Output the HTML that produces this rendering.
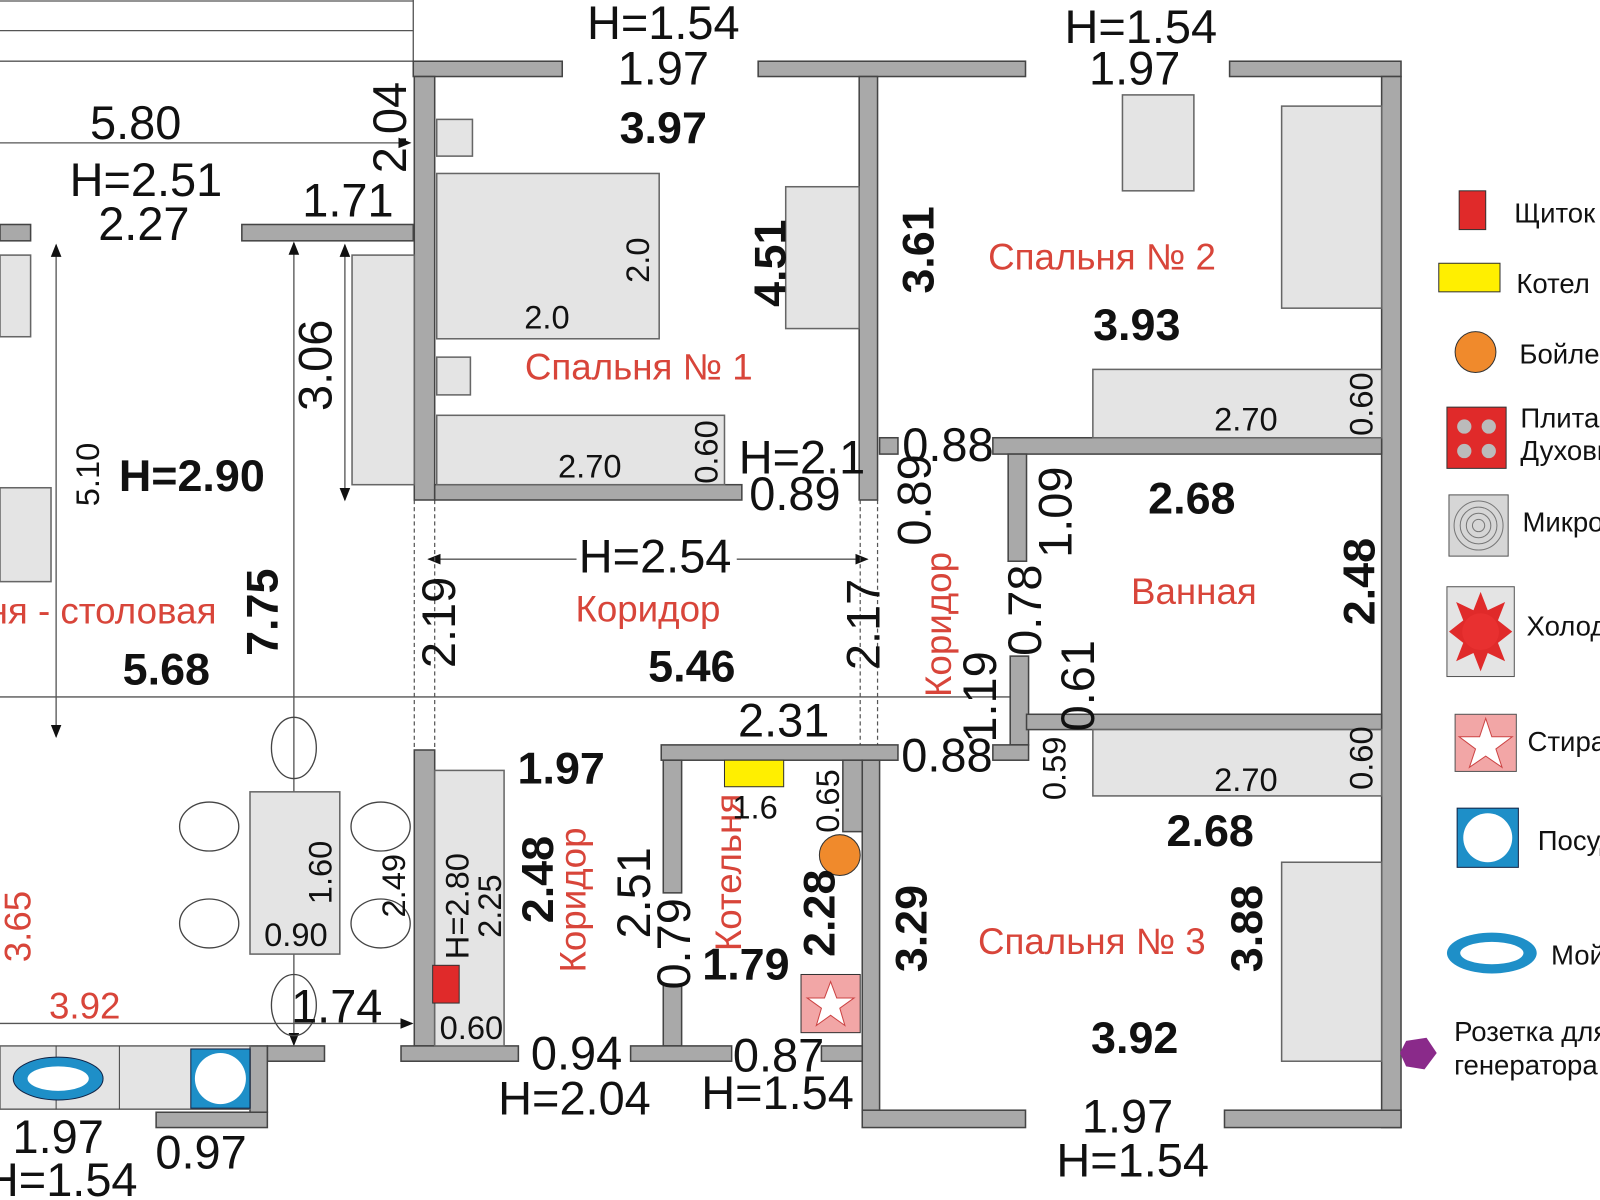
<!DOCTYPE html>
<html><head><meta charset="utf-8"><style>
html,body{margin:0;padding:0;background:#fff;overflow:hidden}
svg{display:block}
text{font-family:"Liberation Sans",Arial,sans-serif}
.n{font-size:46px;fill:#111}
.b{font-size:44px;font-weight:bold;fill:#111}
.s{font-size:32px;fill:#111}
.r{font-size:36px;fill:#d8453a}
.l{font-size:27px;fill:#111}
.w{fill:#a9a9a9;stroke:#444;stroke-width:1.5}
.f{fill:#e4e4e4;stroke:#666;stroke-width:1.5}
.d{stroke:#555;stroke-width:1.3;fill:none}
.ds{stroke:#555;stroke-width:1.2;fill:none;stroke-dasharray:4 3}
</style></head><body>
<svg width="1600" height="1200" viewBox="0 0 1568 1176" preserveAspectRatio="none" xmlns="http://www.w3.org/2000/svg">
<defs><marker id="a" markerWidth="10" markerHeight="10" refX="9" refY="5" orient="auto-start-reverse"><path d="M0,1 L10,5 L0,9 z" fill="#111"/></marker></defs>
<path class="d" d="M0,1H405M0,30H405M0,60H405M405,0V60"/>
<line class="d" x1="0" y1="140" x2="402" y2="140" marker-end="url(#a)"/>
<line class="d" x1="0" y1="683" x2="1000" y2="683"/>
<line class="d" x1="55" y1="240" x2="55" y2="722" marker-start="url(#a)" marker-end="url(#a)"/>
<line class="d" x1="288" y1="238" x2="288" y2="1024" marker-start="url(#a)" marker-end="url(#a)"/>
<line class="d" x1="338" y1="240" x2="338" y2="490" marker-start="url(#a)" marker-end="url(#a)"/>
<line class="d" x1="420" y1="548" x2="565" y2="548" marker-start="url(#a)"/>
<line class="d" x1="722" y1="548" x2="850" y2="548" marker-end="url(#a)"/>
<line class="d" x1="0" y1="1003" x2="404" y2="1003" marker-end="url(#a)"/>
<path class="ds" d="M406,490V735M426,490V735M843,490V735M860,490V735"/>
<rect class="w" x="405" y="60" width="146" height="15"/>
<rect class="w" x="743" y="60" width="262" height="15"/>
<rect class="w" x="1205" y="60" width="168" height="15"/>
<rect class="w" x="406" y="75" width="20" height="415"/>
<rect class="w" x="842" y="75" width="18" height="415"/>
<rect class="w" x="1354" y="75" width="19" height="1030"/>
<rect class="w" x="0" y="220" width="30" height="16"/>
<rect class="w" x="237" y="220" width="168" height="16"/>
<rect class="w" x="426" y="475" width="301" height="15"/>
<rect class="w" x="862" y="429" width="18" height="16"/>
<rect class="w" x="973" y="429" width="381" height="16"/>
<rect class="w" x="988" y="445" width="18" height="105"/>
<rect class="w" x="990" y="643" width="18" height="87"/>
<rect class="w" x="1006" y="700" width="348" height="15"/>
<rect class="w" x="973" y="730" width="35" height="15"/>
<rect class="w" x="648" y="730" width="232" height="15"/>
<rect class="w" x="650" y="745" width="18" height="130"/>
<rect class="w" x="650" y="965" width="18" height="60"/>
<rect class="w" x="618" y="1025" width="99" height="15"/>
<rect class="w" x="845" y="745" width="17" height="345"/>
<rect class="w" x="805" y="1025" width="40" height="15"/>
<rect class="w" x="826" y="745" width="19" height="70"/>
<rect class="w" x="845" y="1088" width="160" height="17"/>
<rect class="w" x="1200" y="1088" width="173" height="17"/>
<rect class="w" x="406" y="735" width="20" height="290"/>
<rect class="w" x="393" y="1025" width="115" height="15"/>
<rect class="w" x="262" y="1025" width="56" height="15"/>
<rect class="w" x="245" y="1025" width="17" height="65"/>
<rect class="w" x="153" y="1090" width="109" height="15"/>
<rect class="f" x="0" y="250" width="30" height="80"/>
<rect class="f" x="0" y="478" width="50" height="92"/>
<rect class="f" x="345" y="250" width="61" height="225"/>
<rect class="f" x="428" y="117" width="35" height="36"/>
<rect class="f" x="428" y="350" width="33" height="37"/>
<rect class="f" x="428" y="170" width="218" height="162"/>
<rect class="f" x="428" y="407" width="282" height="68"/>
<rect class="f" x="770" y="183" width="72" height="139"/>
<rect class="f" x="1100" y="93" width="70" height="94"/>
<rect class="f" x="1256" y="104" width="98" height="198"/>
<rect class="f" x="1071" y="362" width="283" height="67"/>
<rect class="f" x="1071" y="715" width="283" height="65"/>
<rect class="f" x="1256" y="845" width="98" height="195"/>
<rect class="f" x="426" y="755" width="68" height="270"/>
<rect class="f" x="245" y="776" width="88" height="159"/>
<g fill="none" stroke="#444" stroke-width="1.3">
<ellipse cx="205" cy="810" rx="29" ry="24"/><ellipse cx="205" cy="905" rx="29" ry="24"/>
<ellipse cx="373" cy="810" rx="29" ry="24"/><ellipse cx="373" cy="905" rx="29" ry="24"/>
<ellipse cx="288" cy="733" rx="22" ry="30"/><ellipse cx="288" cy="985" rx="22" ry="30"/></g>
<rect class="f" x="0" y="1025" width="245" height="62"/>
<line x1="117" y1="1025" x2="117" y2="1087" stroke="#444"/>
<line x1="55" y1="1025" x2="55" y2="1087" stroke="#444"/>
<ellipse cx="57" cy="1057" rx="44" ry="21" fill="#1e8fc8" stroke="#124" stroke-width="1"/>
<ellipse cx="57" cy="1057" rx="30" ry="12" fill="#fff"/>
<rect x="187" y="1028" width="58" height="58" fill="#1e8fc8" stroke="#124"/>
<circle cx="216" cy="1057" r="25" fill="#fff"/>
<rect x="710" y="745" width="58" height="26" fill="#ffef00" stroke="#333"/>
<circle cx="823" cy="838" r="20" fill="#f08a2c" stroke="#333"/>
<rect x="785" y="955" width="58" height="57" fill="#f2a6a6" stroke="#333"/>
<polygon points="814,962 820,978 837,978 823,988 828,1005 814,995 800,1005 805,988 791,978 808,978" fill="#fff" stroke="#c44"/>
<rect x="424" y="946" width="26" height="37" fill="#e02a2a" stroke="#333"/>
<rect x="1430" y="187" width="26" height="38" fill="#e02a2a" stroke="#333"/>
<text class="l" x="1484" y="218">Щиток</text>
<rect x="1410" y="258" width="60" height="28" fill="#ffef00" stroke="#333"/>
<text class="l" x="1486" y="287">Котел</text>
<circle cx="1446" cy="345" r="20" fill="#f08a2c" stroke="#333"/>
<text class="l" x="1489" y="356">Бойлер</text>
<rect x="1418" y="399" width="58" height="60" fill="#e02a2a" stroke="#333"/>
<g fill="#bbb"><circle cx="1435" cy="418" r="7"/><circle cx="1459" cy="418" r="7"/><circle cx="1435" cy="442" r="7"/><circle cx="1459" cy="442" r="7"/></g>
<text class="l" x="1490" y="419">Плита</text><text class="l" x="1490" y="451">Духовка</text>
<rect x="1420" y="485" width="58" height="60" fill="#d6d6d6" stroke="#555"/>
<g fill="none" stroke="#777"><circle cx="1449" cy="515" r="6"/><circle cx="1449" cy="515" r="12"/><circle cx="1449" cy="515" r="18"/><circle cx="1449" cy="515" r="24"/></g>
<text class="l" x="1492" y="521">Микроволн</text>
<rect x="1418" y="575" width="66" height="88" fill="#e4e4e4" stroke="#555"/>
<polygon points="1451,580 1458,598 1475,590 1468,608 1482,619 1468,630 1475,648 1458,640 1451,658 1444,640 1427,648 1434,630 1420,619 1434,608 1427,590 1444,598" fill="#e02a2a"/>
<circle cx="1451" cy="619" r="18" fill="#e83030"/>
<text class="l" x="1496" y="623">Холодильник</text>
<rect x="1426" y="700" width="60" height="56" fill="#f2a6a6" stroke="#555"/>
<polygon points="1456,704 1462,722 1482,722 1466,734 1472,752 1456,741 1440,752 1446,734 1430,722 1450,722" fill="#fff" stroke="#c44"/>
<text class="l" x="1497" y="736">Стиральная</text>
<rect x="1428" y="792" width="60" height="58" fill="#1e8fc8" stroke="#124"/>
<circle cx="1458" cy="821" r="24" fill="#fff"/>
<text class="l" x="1507" y="833">Посудомойка</text>
<ellipse cx="1462" cy="934" rx="44" ry="20" fill="#1e8fc8"/>
<ellipse cx="1462" cy="934" rx="31" ry="11" fill="#fff"/>
<text class="l" x="1520" y="945">Мойка</text>
<polygon points="1378,1020 1398,1017 1408,1032 1396,1048 1378,1045 1372,1032" fill="#8a2a8a"/>
<text class="l" x="1425" y="1020">Розетка для</text>
<text class="l" x="1425" y="1053">генератора</text>
<text class="n" x="650" y="38" text-anchor="middle">H=1.54</text>
<text class="n" x="650" y="83" text-anchor="middle">1.97</text>
<text class="b" x="650" y="140" text-anchor="middle">3.97</text>
<text class="n" x="1118" y="42" text-anchor="middle">H=1.54</text>
<text class="n" x="1112" y="83" text-anchor="middle">1.97</text>
<text class="n" x="133" y="136" text-anchor="middle">5.80</text>
<text class="n" x="143" y="192" text-anchor="middle">H=2.51</text>
<text class="n" x="141" y="235" text-anchor="middle">2.27</text>
<text class="n" x="341" y="212" text-anchor="middle">1.71</text>
<text class="n" transform="translate(398,125) rotate(-90)" text-anchor="middle">2.04</text>
<text class="n" transform="translate(325,358) rotate(-90)" text-anchor="middle">3.06</text>
<text class="s" transform="translate(97,465) rotate(-90)" text-anchor="middle">5.10</text>
<text class="b" x="188" y="481" text-anchor="middle">H=2.90</text>
<text class="r" x="100" y="611" text-anchor="middle">ня - столовая</text>
<text class="b" transform="translate(272,600) rotate(-90)" text-anchor="middle">7.75</text>
<text class="b" x="163" y="671" text-anchor="middle">5.68</text>
<text class="s" x="536" y="322" text-anchor="middle">2.0</text>
<text class="s" transform="translate(636,255) rotate(-90)" text-anchor="middle">2.0</text>
<text class="r" x="626" y="372" text-anchor="middle">Спальня № 1</text>
<text class="s" x="578" y="468" text-anchor="middle">2.70</text>
<text class="s" transform="translate(703,443) rotate(-90)" text-anchor="middle">0.60</text>
<text class="b" transform="translate(770,258) rotate(-90)" text-anchor="middle">4.51</text>
<text class="b" transform="translate(915,245) rotate(-90)" text-anchor="middle">3.61</text>
<text class="n" x="724" y="464">H=2.1</text>
<text class="n" x="779" y="500" text-anchor="middle">0.89</text>
<text class="n" x="929" y="452" text-anchor="middle">0.88</text>
<text class="r" x="1080" y="264" text-anchor="middle">Спальня № 2</text>
<text class="b" x="1114" y="333" text-anchor="middle">3.93</text>
<text class="s" x="1221" y="422" text-anchor="middle">2.70</text>
<text class="s" transform="translate(1345,396) rotate(-90)" text-anchor="middle">0.60</text>
<text class="n" transform="translate(912,490) rotate(-90)" text-anchor="middle">0.89</text>
<text class="n" transform="translate(1050,502) rotate(-90)" text-anchor="middle">1.09</text>
<text class="b" x="1168" y="503" text-anchor="middle">2.68</text>
<text class="r" x="1170" y="592" text-anchor="middle">Ванная</text>
<text class="b" transform="translate(1347,570) rotate(-90)" text-anchor="middle">2.48</text>
<text class="n" x="642" y="561" text-anchor="middle">H=2.54</text>
<text class="r" x="635" y="609" text-anchor="middle">Коридор</text>
<text class="b" x="678" y="668" text-anchor="middle">5.46</text>
<text class="n" transform="translate(446,610) rotate(-90)" text-anchor="middle">2.19</text>
<text class="n" transform="translate(862,612) rotate(-90)" text-anchor="middle">2.17</text>
<text class="r" transform="translate(932,612) rotate(-90)" text-anchor="middle">Коридор</text>
<text class="n" transform="translate(1020,598) rotate(-90)" text-anchor="middle">0.78</text>
<text class="n" transform="translate(976,683) rotate(-90)" text-anchor="middle">1.19</text>
<text class="n" transform="translate(1072,672) rotate(-90)" text-anchor="middle">0.61</text>
<text class="n" x="768" y="722" text-anchor="middle">2.31</text>
<text class="n" x="928" y="756" text-anchor="middle">0.88</text>
<text class="s" transform="translate(1044,753) rotate(-90)" text-anchor="middle">0.59</text>
<text class="s" x="1221" y="775" text-anchor="middle">2.70</text>
<text class="s" transform="translate(1345,743) rotate(-90)" text-anchor="middle">0.60</text>
<text class="b" x="1186" y="829" text-anchor="middle">2.68</text>
<text class="r" x="1070" y="935" text-anchor="middle">Спальня № 3</text>
<text class="b" transform="translate(1237,910) rotate(-90)" text-anchor="middle">3.88</text>
<text class="b" transform="translate(908,910) rotate(-90)" text-anchor="middle">3.29</text>
<text class="b" x="1112" y="1032" text-anchor="middle">3.92</text>
<text class="n" x="1105" y="1110" text-anchor="middle">1.97</text>
<text class="n" x="1110" y="1153" text-anchor="middle">H=1.54</text>
<text class="b" x="550" y="768" text-anchor="middle">1.97</text>
<text class="b" transform="translate(542,862) rotate(-90)" text-anchor="middle">2.48</text>
<text class="r" transform="translate(574,882) rotate(-90)" text-anchor="middle">Коридор</text>
<text class="s" transform="translate(459,888) rotate(-90)" text-anchor="middle">H=2.80</text>
<text class="s" transform="translate(491,888) rotate(-90)" text-anchor="middle">2.25</text>
<text class="s" x="462" y="1018" text-anchor="middle">0.60</text>
<text class="s" transform="translate(397,868) rotate(-90)" text-anchor="middle">2.49</text>
<text class="s" transform="translate(325,855) rotate(-90)" text-anchor="middle">1.60</text>
<text class="s" x="290" y="927" text-anchor="middle">0.90</text>
<text class="r" transform="translate(30,908) rotate(-90)" text-anchor="middle">3.65</text>
<text class="r" x="83" y="998" text-anchor="middle">3.92</text>
<text class="n" x="330" y="1002" text-anchor="middle">1.74</text>
<text class="n" transform="translate(637,875) rotate(-90)" text-anchor="middle">2.51</text>
<text class="n" transform="translate(676,925) rotate(-90)" text-anchor="middle">0.79</text>
<text class="r" transform="translate(726,855) rotate(-90)" text-anchor="middle">Котельня</text>
<text class="s" x="740" y="802" text-anchor="middle">1.6</text>
<text class="s" transform="translate(822,785) rotate(-90)" text-anchor="middle">0.65</text>
<text class="b" transform="translate(818,895) rotate(-90)" text-anchor="middle">2.28</text>
<text class="b" x="731" y="960" text-anchor="middle">1.79</text>
<text class="n" x="565" y="1048" text-anchor="middle">0.94</text>
<text class="n" x="563" y="1092" text-anchor="middle">H=2.04</text>
<text class="n" x="763" y="1050" text-anchor="middle">0.87</text>
<text class="n" x="762" y="1087" text-anchor="middle">H=1.54</text>
<text class="n" x="57" y="1130" text-anchor="middle">1.97</text>
<text class="n" x="60" y="1172" text-anchor="middle">H=1.54</text>
<text class="n" x="197" y="1145" text-anchor="middle">0.97</text>
</svg>
</body></html>
